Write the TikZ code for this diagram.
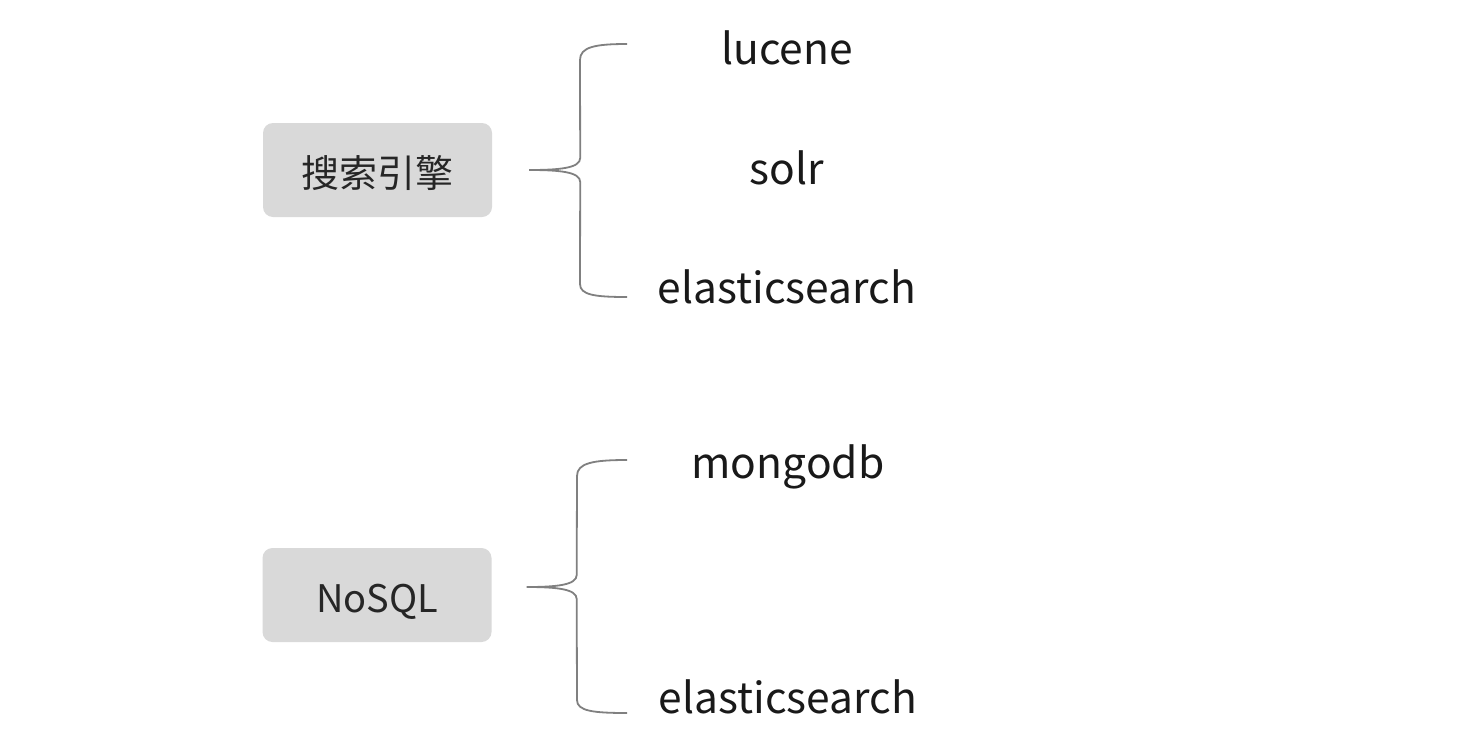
\documentclass[tikz,border=0pt]{standalone}
\usepackage{fontspec}
\setmainfont{Noto Sans CJK SC}
\usetikzlibrary{calc}

\tikzset{
	catbox/.style={fill=black!15, rounded corners=10pt, minimum width=229pt,
		minimum height=94pt, inner sep=0pt, text height=34pt, text depth=0pt,
		text=black!85, font=\fontsize{38}{44}\selectfont},
	leaf/.style={inner sep=0pt, anchor=base, text=black!90,
		font=\fontsize{42.5}{50}\selectfont},
	brace/.style={draw=black!50, line width=1.8pt}
}

\begin{document}
\begin{tikzpicture}[x=1pt, y=-1pt]

	% ---- canvas

	\useasboundingbox (0,0) rectangle (1470,750);
	\fill[white] (0,0) rectangle (1470,750);

	% ---- category boxes

	\node[catbox] (search) at (377.5,170) {搜索引擎};
	\node[catbox] (nosql) at (377,595) {NoSQL};

	% ---- leaves

	\node[leaf] (lucene) at (787,64) {lucene};
	\node[leaf] (solr) at (787,184) {solr};
	\node[leaf] (es1) at (787,303) {elasticsearch};

	\node[leaf] (mongo) at (788,478) {mongodb};
	\node[leaf] (es2) at (788,713) {elasticsearch};

	% ---- brace points

	\coordinate (S) at ($(search.east)+(37,0)$);
	\coordinate (ST) at (627,44);
	\coordinate (SB) at (627,297);

	\coordinate (N) at ($(nosql.east)+(35,-8)$);
	\coordinate (NT) at (627,460);
	\coordinate (NB) at (627,713);

	% ---- braces

	\draw[brace] (ST) .. controls ($(ST)+(-32,0)$) and ($(ST)+(-47,3)$) .. ($(ST)+(-47,16)$)
		-- ($(S)+(51,-12)$) .. controls ($(S)+(51,-2)$) and ($(S)+(31,0)$) .. (S)
		.. controls ($(S)+(31,0)$) and ($(S)+(51,2)$) .. ($(S)+(51,12)$)
		-- ($(SB)+(-47,-13)$) .. controls ($(SB)+(-47,-2)$) and ($(SB)+(-32,0)$) .. (SB);

	\draw[brace] (NT) .. controls ($(NT)+(-34,0)$) and ($(NT)+(-50,3)$) .. ($(NT)+(-50,16)$)
		-- ($(N)+(50,-12)$) .. controls ($(N)+(50,-2)$) and ($(N)+(30,0)$) .. (N)
		.. controls ($(N)+(30,0)$) and ($(N)+(50,2)$) .. ($(N)+(50,12)$)
		-- ($(NB)+(-50,-13)$) .. controls ($(NB)+(-50,-2)$) and ($(NB)+(-34,0)$) .. (NB);

\end{tikzpicture}
\end{document}
